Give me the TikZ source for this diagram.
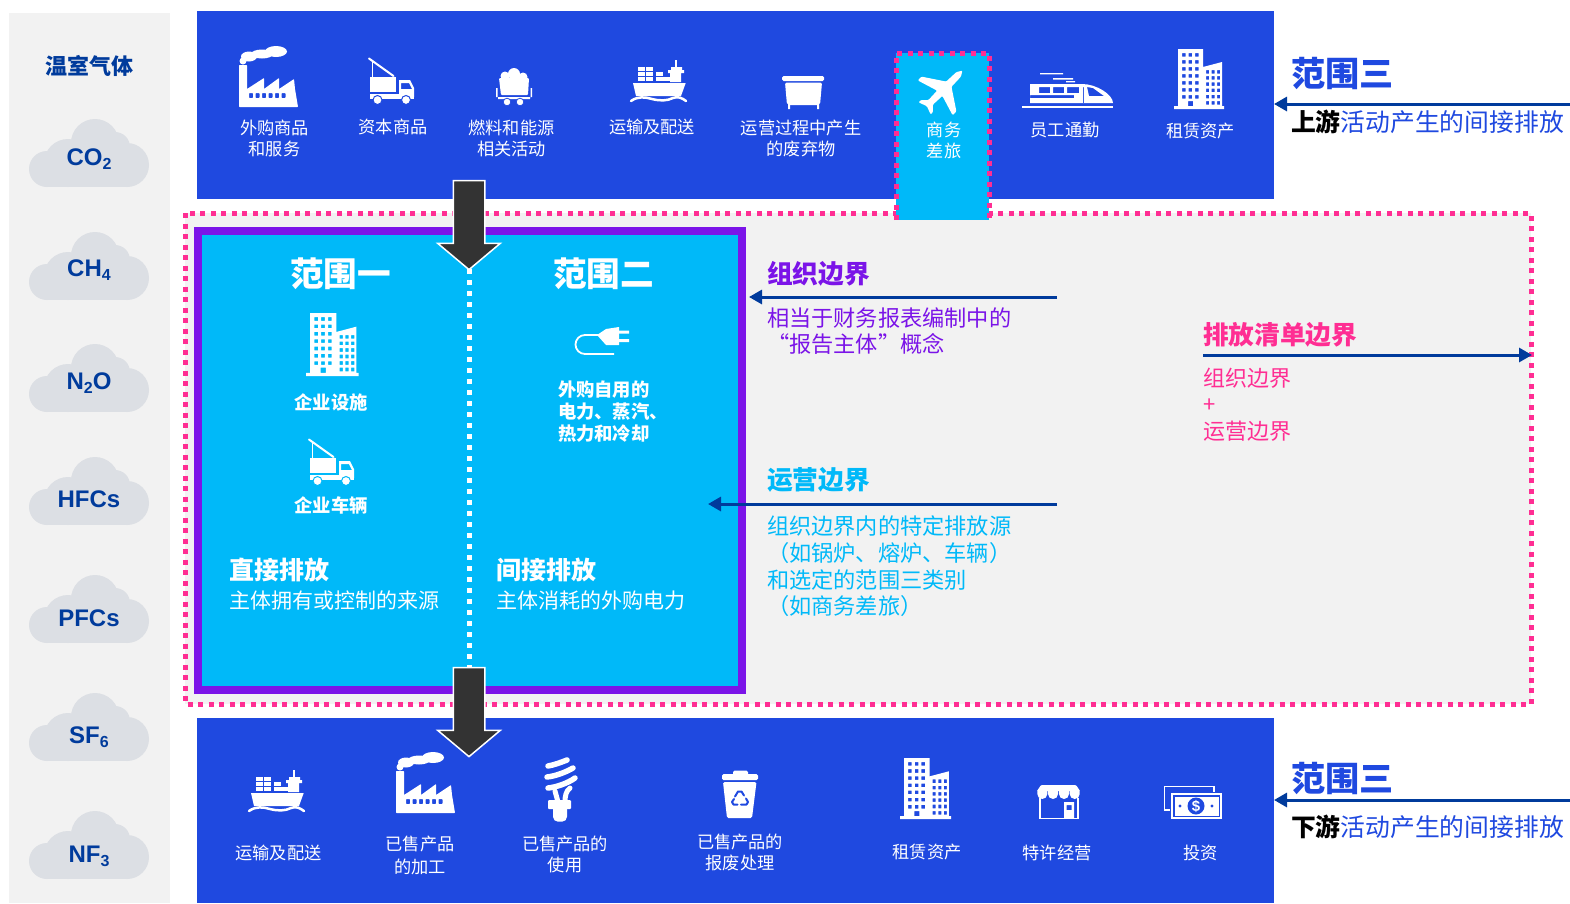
\documentclass[tikz,border=0pt]{standalone}
\usepackage{fontspec}
\setmainfont{Noto Sans CJK SC}
\newfontfamily\latinf{Liberation Sans}
\usetikzlibrary{arrows.meta,shapes.arrows}
\definecolor{bandblue}{HTML}{1F49E0}
\definecolor{skyc}{HTML}{00B9F9}
\definecolor{navyc}{HTML}{003B9C}
\definecolor{pinkc}{HTML}{FF2E93}
\definecolor{purplec}{HTML}{7B14E8}
\definecolor{greyp}{HTML}{F2F2F2}
\definecolor{cloudc}{HTML}{DCDFE4}
\definecolor{darka}{HTML}{333333}
\colorlet{ibg}{bandblue}
\newcommand\fs[2]{\fontsize{#1}{#2}\selectfont}
\tikzset{
  x=1pt,y=-1pt,
  txt/.style={inner sep=0,outer sep=0,align=center},
  lab/.style={txt,text=white,font=\fs{17.2}{21}},
  lefttxt/.style={txt,anchor=west,align=left},
  block/.style={inner sep=0,outer sep=0},
  pdots/.style={draw=pinkc,line width=5pt,dash pattern=on 5pt off 5.5pt},
  thin arrow/.style={draw=navyc,line width=3pt,-{Triangle[length=13pt,width=14pt]}},
  bigarrow/.style={single arrow,draw=white,fill=darka,line width=1.5pt,rotate=-90,
    minimum height=89pt,inner xsep=0pt,inner ysep=15pt,
    single arrow head extend=15.5pt,single arrow tip angle=100},
  gas/.style={txt,text=navyc,font=\latinf\bfseries\fs{24}{24}},
}
\newcommand\gasub[1]{\raisebox{-4pt}{\fs{16}{16}#1}}
\newcommand\cloudat[2]{\begin{scope}[shift={(#1,#2)}]
  \fill[cloudc] (18,50) circle[radius=18] (98,46) circle[radius=22] (39,44) circle[radius=24]
    (66,24) circle[radius=24] (86,28) circle[radius=15];
  \fill[cloudc] (18,32) rectangle (98,68);
\end{scope}}
\newcommand\iconFactory[3]{\begin{scope}[shift={(#1,#2)},scale=#3]
  \fill[white,even odd rule,rounded corners=0.6pt] (1,61)--(1,19)--(9,19)--(9,43)--(26,32)--(26,43)--(41,32)--(41,43)--(56,33)--(57,43)--(60,61)--cycle
    \foreach \i in {0,...,5}{(11+\i*6.5,47) rectangle ++(4,5)};
  \fill[white] (38,5.5) ellipse[x radius=11,y radius=5.5] (24,8) ellipse[x radius=11,y radius=4.5] (11,10.5) ellipse[x radius=8,y radius=5] (5,15) circle[radius=3.5];
\end{scope}}
\newcommand\iconTruck[3]{\begin{scope}[shift={(#1,#2)},scale=#3]
  \draw[white,line width=2pt,line cap=round] (1,1.5)--(25.5,19);
  \draw[white,line width=1.5pt] (4.5,5)--(4.5,21);
  \fill[white] (1.6,20.3) rectangle (28,35);
  \fill[white,even odd rule] (31,23)--(42,23)--(46,31)--(46,40)--(31,40)--cycle (33,26)--(41,26)--(44,32)--(33,32)--cycle;
  \fill[white] (1.6,37) rectangle (46,42);
  \fill[white,draw=ibg,line width=1pt] (9.5,43) circle[radius=4.5] (38,43) circle[radius=4.5];
\end{scope}}
\newcommand\iconShip[3]{\begin{scope}[shift={(#1,#2)},scale=#3]
  \fill[white,even odd rule] (3,23)--(55.7,23)--(51,36)--(6,36)--cycle;
  \foreach \c/\r in {8/7,16/7,8/12,16/12,26/12,8/17,16/17,26/17,33/17}{\fill[white] (\c,\r) rectangle ++(7,3.6);}
  \fill[white,even odd rule] (38,10)--(54,10)--(54,13)--(51,13)--(51,22)--(40,22)--(40,13)--(38,13)--cycle (41,7)--(52,7)--(52,10)--(41,10)--cycle;
  \draw[white,line width=1.2pt] (46,0)--(46,8);
  \draw[white,line width=2.5pt,line cap=round] (1,41) .. controls (8,36) and (15,37) .. (22,39) .. controls (30,41) and (37,41) .. (43,38) .. controls (48,36) and (52,38) .. (56,41);
\end{scope}}
\newcommand\iconCoal[3]{\begin{scope}[shift={(#1,#2)},scale=#3]
  \fill[white] (10,8) circle[radius=4.5] (19,6) circle[radius=6] (28,9) circle[radius=4.5];
  \fill[white,rounded corners=1pt] (4,10)--(34,10)--(33,27)--(6,27)--cycle;
  \fill[white] (1,20) rectangle (2.5,29) (35.5,20) rectangle (37,29) (3,29) rectangle (35,31);
  \fill[white,draw=ibg,line width=0.8pt] (12,34) circle[radius=3.8] (25,34) circle[radius=3.8];
\end{scope}}
\newcommand\iconBin[3]{\begin{scope}[shift={(#1,#2)},scale=#3]
  \fill[white,rounded corners=1.5pt] (0,0) rectangle (42,5);
  \fill[white,rounded corners=2pt] (3,6.5)--(40,6.5)--(38,29)--(5,29)--cycle;
  \fill[white] (6,28) rectangle (8,33) (35,28) rectangle (37,33);
\end{scope}}
\newcommand\iconPlane[2]{\begin{scope}[shift={(#1,#2)},rotate=-45,scale=1.07]
  \fill[white,rounded corners=1pt] (0,-27)--(3,-22)--(3.5,-9)--(23,4)--(23,9)--(3.5,3)--(3,15)--(8,20)--(8,23)--(0,20)--(-8,23)--(-8,20)--(-3,15)--(-3.5,3)--(-23,9)--(-23,4)--(-3.5,-9)--(-3,-22)--cycle;
\end{scope}}
\newcommand\iconTrain[3]{\begin{scope}[shift={(#1,#2)},scale=#3]
  \fill[white,even odd rule] (8,11)--(60,11) .. controls (75,11) and (91,22) .. (91,30) -- (8,30) -- cycle
    (17,14) rectangle (28,20) (31,14) rectangle (42,20) (45,14) rectangle (57,20)
    (8,22) rectangle (52,25)
    (65,14)--(71,15)--(82,23)--(67,23)--cycle (61,14) rectangle (62,30);
  \fill[white] (0,32.5) rectangle (91,35);
  \fill[white] (18,0) rectangle (41,1.3) (31,5) rectangle (51,6.5) (44,8) rectangle (53,9.3);
\end{scope}}
\newcommand\iconBuilding[3]{\begin{scope}[shift={(#1,#2)},scale=#3]
  \fill[white,even odd rule] (4,0)--(29,0)--(29,18)--(48,13)--(48,57)--(50,57)--(50,60)--(0,60)--(0,57)--(4,57)--cycle
    \foreach \r in {0,...,6}{(8,4+\r*7) rectangle ++(3.5,3.5) (14.5,4+\r*7) rectangle ++(3.5,3.5) (21,4+\r*7) rectangle ++(3.5,3.5)}
    \foreach \r in {0,...,5}{(32,21+\r*6.2) rectangle ++(3,3.5) (37.5,21+\r*6.2) rectangle ++(3,3.5) (43,21+\r*6.2) rectangle ++(3,3.5)}
    (14,52) rectangle (19,57);
\end{scope}}
\newcommand\iconPlug[3]{\begin{scope}[shift={(#1,#2)},scale=#3]
  \fill[white] (26,9)--(35,3)--(48,1)--(48,19)--(35,19)--cycle;
  \fill[white] (48,4.5) rectangle (58,7.5) (48,13) rectangle (58,16);
  \draw[white,line width=1.8pt] (27,9)--(14,9) arc[start angle=270,end angle=90,radius=9.5] -- (43,28);
\end{scope}}
\newcommand\iconBulb[3]{\begin{scope}[shift={(#1,#2)},scale=#3]
  \draw[white,line width=5.5pt,line cap=round] (4,8) .. controls (10,7) and (18,4) .. (23,2)
    (3,19) .. controls (12,18) and (22,14) .. (29,10)
    (4,30) .. controls (13,29) and (24,25) .. (31,20);
  \draw[white,line width=5pt,line cap=round] (11,33) -- (14,44);
  \draw[white,line width=5pt,line cap=round] (26,30) .. controls (22,33) and (21,38) .. (21,44);
  \fill[white,rounded corners=1pt] (4,42) rectangle (27,51);
  \fill[white,rounded corners=5pt] (9,46) rectangle (23,63.7);
\end{scope}}
\newcommand\iconRecycle[3]{\begin{scope}[shift={(#1,#2)},scale=#3]
  \fill[white,rounded corners=1.5pt] (0,4) rectangle (36,10);
  \fill[white,rounded corners=1.5pt] (11,0.5) rectangle (26,6);
  \fill[white,rounded corners=1.5pt] (1,12)--(34.5,12)--(30,48)--(5,48)--cycle;
  \draw[ibg,line width=2pt,line cap=round,line join=round] (13,26.5)--(16,21.5)--(19.5,21.5)--(22,25.5)
    (24,28.5)--(26,32)--(24.5,34.5)--(19,34.5)
    (15.5,34.5)--(11.5,34.5)--(10,32)--(12,29);
\end{scope}}
\newcommand\iconStore[3]{\begin{scope}[shift={(#1,#2)},scale=#3]
  \fill[white,rounded corners=1pt] (5,0)--(40,0)--(44,6)--(1,6)--cycle;
  \foreach \c in {6.3,17,28,38.7}{\fill[white] (\c-5,5) -- (\c+5,5) -- (\c+5,9) arc[start angle=0,end angle=180,radius=5] -- cycle;}
  \draw[white,line width=1.5pt] (4,13)--(4,33.5)--(42,33.5)--(42,13);
  \fill[white,even odd rule] (28,17) rectangle (38,33.5) (30.5,20) rectangle (35.5,25);
\end{scope}}
\newcommand\iconMoney[3]{\begin{scope}[shift={(#1,#2)},scale=#3]
  \draw[white,line width=1.4pt] (6,24)--(0.7,24)--(0.7,0.7)--(50,0.7)--(50,6);
  \draw[white,line width=1.4pt] (8,8) rectangle (57,32);
  \fill[white] (10.5,10.5) rectangle (54.5,29.5);
  \fill[ibg] (32,20) circle[radius=8.5];
  \fill[ibg] (16,20) circle[radius=1.6] (48,20) circle[radius=1.6];
\end{scope}}
\begin{document}
\begin{tikzpicture}
\useasboundingbox (0,0) rectangle (1570,903);
\fill[white] (0,0) rectangle (1570,903);
% panels
\node (gaspanel) [block,fill=greyp,minimum width=161pt,minimum height=890pt] at (89.5,458) {};
\node (upband) [block,fill=bandblue,minimum width=1077pt,minimum height=188pt] at (735.5,105) {};
\node (invpanel) [block,fill=greyp,minimum width=1346pt,minimum height=491pt] at (858,458.5) {};
\draw[pdots] (invpanel.north west) rectangle (invpanel.south east);
\node (downband) [block,fill=bandblue,minimum width=1077pt,minimum height=185pt] at (735.5,810.5) {};
\node (tripbox) [block,fill=skyc,minimum width=93pt,minimum height=167pt] at (942.5,136.5) {};
\draw[pdots] (tripbox.south west) -- (tripbox.north west) -- (tripbox.north east) -- (tripbox.south east);
\node (scopebox) [block,fill=skyc,draw=purplec,line width=8pt,minimum width=543.5pt,minimum height=459pt] at (470,460.5) {};
% gases
\node (ghg) [txt,text=navyc,font=\bfseries\fs{22}{22}] at (89,66) {温室气体};
\cloudat{29}{119}\node (g1) [gas] at (89,159) {CO\gasub{2}};
\cloudat{29}{232}\node (g2) [gas] at (89,270) {CH\gasub{4}};
\cloudat{29}{344}\node (g3) [gas] at (89,383) {N\gasub{2}O};
\cloudat{29}{457}\node (g4) [gas] at (89,499) {HFCs};
\cloudat{29}{575}\node (g5) [gas] at (89,618) {PFCs};
\cloudat{29}{693}\node (g6) [gas] at (89,737) {SF\gasub{6}};
\cloudat{29}{811}\node (g7) [gas] at (89,856) {NF\gasub{3}};
% upstream icons and labels
\iconFactory{238}{46}{1}
\iconTruck{368}{57}{1}
\iconCoal{495}{68}{1}
\iconShip{630}{60}{1}
\iconBin{782}{76}{1}
\iconTrain{1022}{73}{1}
\iconBuilding{1174}{49}{1}
\node (u1) [lab] at (274.5,138) {外购商品\\和服务};
\node (u2) [lab] at (393,127) {资本商品};
\node (u3) [lab] at (511.5,138) {燃料和能源\\相关活动};
\node (u4) [lab] at (652,127) {运输及配送};
\node (u5) [lab] at (801,138) {运营过程中产生\\的废弃物};
\node (u7) [lab] at (1065,130) {员工通勤};
\node (u8) [lab] at (1200.5,131) {租赁资产};
\colorlet{ibg}{skyc}
\iconPlane{942}{91}
\node (u6) [lab] at (944,140) {商务\\差旅};
% scope 1 and 2
\iconBuilding{306}{313}{1.05}
\iconTruck{308}{438}{1}
\iconPlug{571}{326}{1}
\node (s1) [txt,text=white,font=\bfseries\fs{33.6}{33.6}] at (340.5,274) {范围一};
\node (s2) [txt,text=white,font=\bfseries\fs{33.6}{33.6}] at (603.5,274) {范围二};
\node (s1a) [txt,text=white,font=\bfseries\fs{18.3}{18}] at (331,402) {企业设施};
\node (s1b) [txt,text=white,font=\bfseries\fs{18.3}{18}] at (331,505) {企业车辆};
\node (s2a) [lefttxt,text=white,font=\bfseries\fs{18.3}{22}] at (558,411.5) {外购自用的\\电力、蒸汽、\\热力和冷却};
\node (s1c) [lefttxt,text=white,font=\bfseries\fs{25}{25}] at (229,570) {直接排放};
\node (s1d) [lefttxt,text=white,font=\fs{21}{21}] at (229,600) {主体拥有或控制的来源};
\node (s2c) [lefttxt,text=white,font=\bfseries\fs{25}{25}] at (496,570) {间接排放};
\node (s2d) [lefttxt,text=white,font=\fs{21}{21}] at (496,600.5) {主体消耗的外购电力};
\coordinate (divtop) at (469,269);
\coordinate (divbot) at (469,667);
\draw[white,line width=5pt,dash pattern=on 5pt off 6pt] (divtop) -- (divbot);
% downstream
\colorlet{ibg}{bandblue}
\iconShip{248}{770}{1}
\iconFactory{395}{752}{1}
\iconBulb{544}{758}{1}
\iconRecycle{722}{770}{1}
\iconBuilding{900}{758}{1.02}
\iconStore{1036}{785}{1}
\iconMoney{1164}{786}{1}
\node (dollar) [txt,text=white,font=\latinf\bfseries\fs{15}{15}] at (1196,806.5) {\$};
\node (d1) [lab] at (278.5,853) {运输及配送};
\node (d2) [lab,font=\fs{17.2}{23}] at (420,855) {已售产品\\的加工};
\node (d3) [lab] at (565,854) {已售产品的\\使用};
\node (d4) [lab] at (740,852) {已售产品的\\报废处理};
\node (d5) [lab] at (927,852) {租赁资产};
\node (d6) [lab] at (1057,853) {特许经营};
\node (d7) [lab] at (1200.5,853) {投资};
% big arrows
\node (arrowin) [bigarrow] at (469,218.5) {};
\node (arrowout) [bigarrow] at (469,705.5) {};
% scope 3 captions
\node (up3) [lefttxt,text=bandblue,font=\bfseries\fs{34.2}{34}] at (1291,73.5) {范围三};
\coordinate (upfree) at (1570,104);
\draw[thin arrow] (upfree) -- (upfree -| upband.east);
\node (uptxt) [lefttxt,text=bandblue,font=\fs{24.8}{24.8}] at (1291,121.5) {{\color{black}\bfseries 上游}活动产生的间接排放};
\node (dn3) [lefttxt,text=bandblue,font=\bfseries\fs{34.2}{34}] at (1291,778.5) {范围三};
\coordinate (dnfree) at (1570,800);
\draw[thin arrow] (dnfree) -- (dnfree -| downband.east);
\node (dntxt) [lefttxt,text=bandblue,font=\fs{24.8}{24.8}] at (1291,826.5) {{\color{black}\bfseries 下游}活动产生的间接排放};
% organisational boundary
\node (org) [lefttxt,text=purplec,font=\bfseries\fs{25.7}{25.7}] at (767,273.5) {组织边界};
\coordinate (orgfree) at (1057,297);
\coordinate (orgend) at (749,297);
\draw[thin arrow] (orgfree) -- (orgend);
\node (orgt) [lefttxt,text=purplec,font=\fs{22.2}{26}] at (767,331) {相当于财务报表编制中的\\“报告主体”概念};
% operational boundary
\node (ope) [lefttxt,text=skyc,font=\bfseries\fs{25.7}{25.7}] at (767,479.5) {运营边界};
\coordinate (opefree) at (1057,504);
\coordinate (opeend) at (708,504);
\draw[thin arrow] (opefree) -- (opeend);
\node (opet) [lefttxt,text=skyc,font=\fs{22.2}{26.7}] at (767,566.5) {组织边界内的特定排放源\\（如锅炉、熔炉、车辆）\\和选定的范围三类别\\（如商务差旅）};
% inventory boundary
\node (inv) [lefttxt,text=pinkc,font=\bfseries\fs{25.7}{25.7}] at (1203,334.5) {排放清单边界};
\coordinate (invstart) at (1203,355);
\coordinate (invend) at (1532,355);
\draw[thin arrow] (invstart) -- (invend);
\node (invt) [lefttxt,text=pinkc,font=\fs{22}{26.5}] at (1203,404.5) {组织边界\\+\\运营边界};
\end{tikzpicture}
\end{document}
